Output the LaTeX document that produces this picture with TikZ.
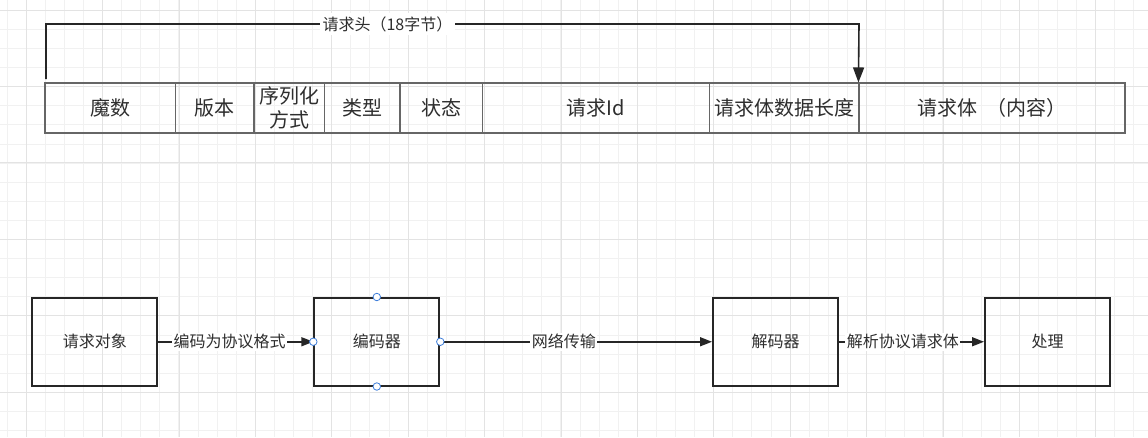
\documentclass[tikz,border=0pt]{standalone}
\usepackage{fontspec}
\setmainfont{Noto Sans CJK SC}
\usetikzlibrary{arrows.meta}
\definecolor{gridminor}{HTML}{F1F1F1}
\definecolor{gridmajor}{HTML}{E3E3E3}
\definecolor{cellline}{HTML}{666666}
\definecolor{txt}{HTML}{2E2E2E}
\definecolor{linec}{HTML}{262626}
\definecolor{handle}{HTML}{3F7FDB}
\tikzset{
 cell/.style={draw=cellline, line width=1.1pt, minimum height=50pt, inner sep=0pt, text=txt, font=\fontsize{20}{24}\selectfont, align=center},
 box/.style={draw=linec, line width=2pt, minimum width=125pt, minimum height=87.5pt, inner sep=0pt, text=txt, font=\fontsize{16}{19}\selectfont},
 flow/.style={draw=linec, line width=1.6pt, -{Triangle[length=12pt,width=9pt]}},
 lab/.style={fill=white, inner sep=1.5pt, text=txt, font=\fontsize{16}{19}\selectfont},
 hlab/.style={fill=white, inner sep=3pt, text=txt, font=\fontsize{16}{19}\selectfont},
 handlept/.style={circle, draw=handle, fill=white, line width=0.8pt, minimum size=7.5pt, inner sep=0pt},
}
\begin{document}
\begin{tikzpicture}[x=1pt,y=-1pt]
\useasboundingbox (0,0) rectangle (1148,437);
\fill[white] (0,0) rectangle (1148,437);
% grid
\foreach \i in {0,...,60} { \draw[gridminor, line width=0.8pt] ({6.9+19.1*\i},0) -- ++(0,437); }
\foreach \i in {0,...,23} { \draw[gridminor, line width=0.8pt] (0,{10.2+19.1*\i}) -- ++(1148,0); }
\foreach \i in {0,...,15} { \draw[gridmajor, line width=0.9pt] ({26.3+76.4*\i},0) -- ++(0,437); }
\foreach \i in {0,...,5} { \draw[gridmajor, line width=0.9pt] (0,{10.1+76.4*\i}) -- ++(1148,0); }

% header table
\node[cell, minimum width=130.5pt] (c1) at (110.25,108) {魔数};
\node[cell, minimum width=78.5pt]  (c2) at (214.75,108) {版本};
\node[cell, minimum width=70.5pt]  (c3) at (289.25,108) {序列化\\方式};
\node[cell, minimum width=75.5pt]  (c4) at (362.25,108) {类型};
\node[cell, minimum width=82.3pt]  (c5) at (441.15,108) {状态};
\node[cell, minimum width=227.2pt] (c6) at (595.9,108) {请求Id};
\node[cell, minimum width=149.5pt] (c7) at (784.25,108) {请求体数据长度};
\node[cell, minimum width=266pt]   (c8) at (992,108) {请求体\ \ （内容）};

% header bracket
\coordinate (hs) at (46,79);
\coordinate (tl) at (46,24);
\coordinate (tr) at (859,24);
\draw[flow, -{Triangle[length=15pt,width=11pt]}] (hs) -- (tl) -- node[hlab, pos=0.42] (hl) {请求头（18字节）} (tr) -- (c8.north west);

% flow boxes
\node[box] (b1) at (94.8,341.75) {请求对象};
\node[box] (b2) at (376.8,341.75) {编码器};
\node[box] (b3) at (775.5,341.75) {解码器};
\node[box] (b4) at (1047.5,341.75) {处理};

\draw[flow] (b1.east) -- node[lab, pos=0.46] (l1) {编码为协议格式} (b2.west);
\draw[flow] (b2.east) -- node[lab, pos=0.455] (l2) {网络传输} (b3.west);
\draw[flow] (b3.east) -- node[lab, pos=0.44] (l3) {解析协议请求体} (b4.west);

% selection handles
\node[handlept] (h1) at (b2.north) {};
\node[handlept] (h2) at (b2.south) {};
\node[handlept] (h3) at (b2.west) {};
\node[handlept] (h4) at (b2.east) {};
\end{tikzpicture}
\end{document}
